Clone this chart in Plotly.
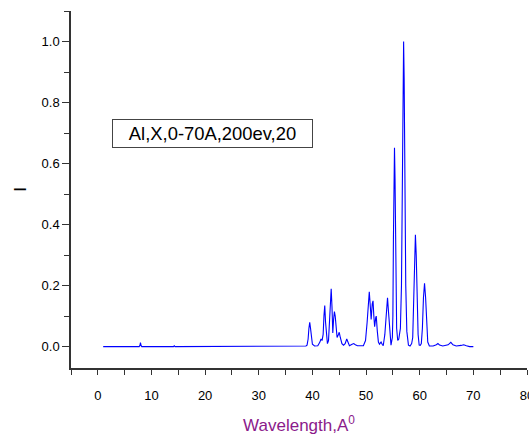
import plotly.graph_objects as go

# Spectrum (wavelength in A, relative intensity)
wavelength = [
    1.0, 7.7, 7.85, 7.95, 8.05, 8.2, 14.1, 14.25, 14.4, 37.0, 38.0, 38.8,
    39.0, 39.2, 39.35, 39.5, 39.65, 39.8, 40.0, 40.4, 41.0, 41.4, 41.6, 41.8,
    42.0, 42.15, 42.3, 42.45, 42.6, 42.8, 43.0,
    43.2, 43.35, 43.5, 43.65, 43.8,
    43.95, 44.1, 44.25, 44.45, 44.6,
    44.85, 45.0, 45.2, 45.5, 45.8, 46.1, 46.4, 46.6, 46.9, 47.4, 47.7, 48.0,
    48.4, 49.5, 49.9,
    50.2, 50.4, 50.6, 50.8, 50.95,
    51.15, 51.3, 51.45, 51.6, 51.8, 51.9, 52.1, 52.3, 52.5, 52.8, 53.0, 53.2,
    53.5, 53.8, 54.0, 54.2, 54.45, 54.65,
    54.9, 55.0, 55.1, 55.2, 55.3, 55.4, 55.5, 55.7, 55.9, 56.1,
    56.4, 56.6, 56.8, 56.9, 57.0, 57.1, 57.2, 57.4, 57.6, 57.9, 58.2,
    58.5, 58.7, 58.9, 59.05, 59.2, 59.35, 59.5, 59.7, 59.9,
    60.1, 60.3, 60.5, 60.7, 60.9, 61.1, 61.3, 61.5, 61.8,
    62.5, 63.1, 63.4, 63.7, 64.3, 65.3, 65.8, 66.2, 66.8, 67.7, 68.2, 68.7,
    69.3, 70.0,
]
intensity = [
    0.0, 0.0, 0.004, 0.013, 0.004, 0.0, 0.0, 0.003, 0.0, 0.0, 0.002, 0.002,
    0.005, 0.025, 0.06, 0.08, 0.06, 0.025, 0.008, 0.002, 0.003, 0.015, 0.025, 0.02,
    0.04, 0.1, 0.135, 0.08, 0.03, 0.01, 0.02,
    0.08, 0.16, 0.19, 0.13, 0.045,
    0.09, 0.115, 0.1, 0.05, 0.03,
    0.04, 0.047, 0.03, 0.01, 0.005, 0.01, 0.025, 0.015, 0.003, 0.008, 0.01, 0.006,
    0.003, 0.003, 0.02,
    0.08, 0.15, 0.18, 0.13, 0.089,
    0.14, 0.15, 0.1, 0.065, 0.095, 0.1, 0.05, 0.015, 0.008, 0.015, 0.008, 0.003,
    0.04, 0.13, 0.16, 0.11, 0.03, 0.005,
    0.03, 0.1, 0.35, 0.58, 0.652, 0.55, 0.3, 0.06, 0.02, 0.025,
    0.06, 0.2, 0.6, 0.88, 1.0, 0.88, 0.6, 0.2, 0.05, 0.005, 0.002,
    0.01, 0.03, 0.15, 0.3, 0.367, 0.3, 0.15, 0.04, 0.005,
    0.004, 0.01, 0.06, 0.16, 0.208, 0.16, 0.06, 0.015, 0.002,
    0.002, 0.006, 0.01, 0.005, 0.002, 0.006, 0.014, 0.006, 0.002, 0.004, 0.006, 0.003,
    0.0, 0.0,
]

x_ticks = [0, 10, 20, 30, 40, 50, 60, 70, 80]
y_ticks = [0.0, 0.2, 0.4, 0.6, 0.8, 1.0]
label_text = "Al,X,0-70A,200ev,20"

fig = go.Figure()
fig.add_trace(go.Scatter(
    x=wavelength, y=intensity, mode="lines",
    line=dict(color="#0000FF", width=1.1),
    showlegend=False,
))

axis_color = "#333333"
fig.update_layout(
    width=529, height=436,
    margin=dict(l=71, r=2, t=11, b=68),
    paper_bgcolor="white", plot_bgcolor="white",
    font=dict(family="Liberation Sans, Arial, sans-serif", color="black", size=13),
    xaxis=dict(
        range=[-5, 80], tickvals=x_ticks, ticktext=[str(v) for v in x_ticks],
        automargin=False, ticklabeloverflow="allow", ticklabelstandoff=10,
        showgrid=False, zeroline=False, showline=True, linecolor=axis_color,
        linewidth=1.5, ticks="outside", ticklen=5, tickwidth=1.3,
        tickcolor=axis_color, tickfont=dict(size=13),
        minor=dict(dtick=5, tick0=0, ticks="outside", ticklen=5, tickwidth=1.3,
                   tickcolor=axis_color),
        title=dict(text="Wavelength,A<sup>0</sup>",
                   font=dict(size=17, color="#8B1A8B"), standoff=17),
    ),
    yaxis=dict(
        range=[-0.07, 1.1], tickvals=y_ticks,
        ticktext=[f"{v:.1f}" for v in y_ticks],
        automargin=False,
        showgrid=False, zeroline=False, showline=True, linecolor=axis_color,
        linewidth=1.5, ticks="outside", ticklen=7, tickwidth=1.3,
        tickcolor=axis_color, tickfont=dict(size=13),
        minor=dict(dtick=0.1, tick0=0, ticks="outside", ticklen=5, tickwidth=1.3,
                   tickcolor=axis_color),
        title=dict(text="I", font=dict(size=17), standoff=11),
    ),
    annotations=[dict(
        text=label_text, xref="x", yref="y", x=21.4, y=0.70,
        showarrow=False, width=199, height=27, borderpad=0,
        bordercolor="#444444", borderwidth=1, bgcolor="white",
        font=dict(size=18.4, color="black"),
    )],
)

fig.write_html("out.html", config={"displayModeBar": False},
               post_script="document.body.style.margin='0';")
